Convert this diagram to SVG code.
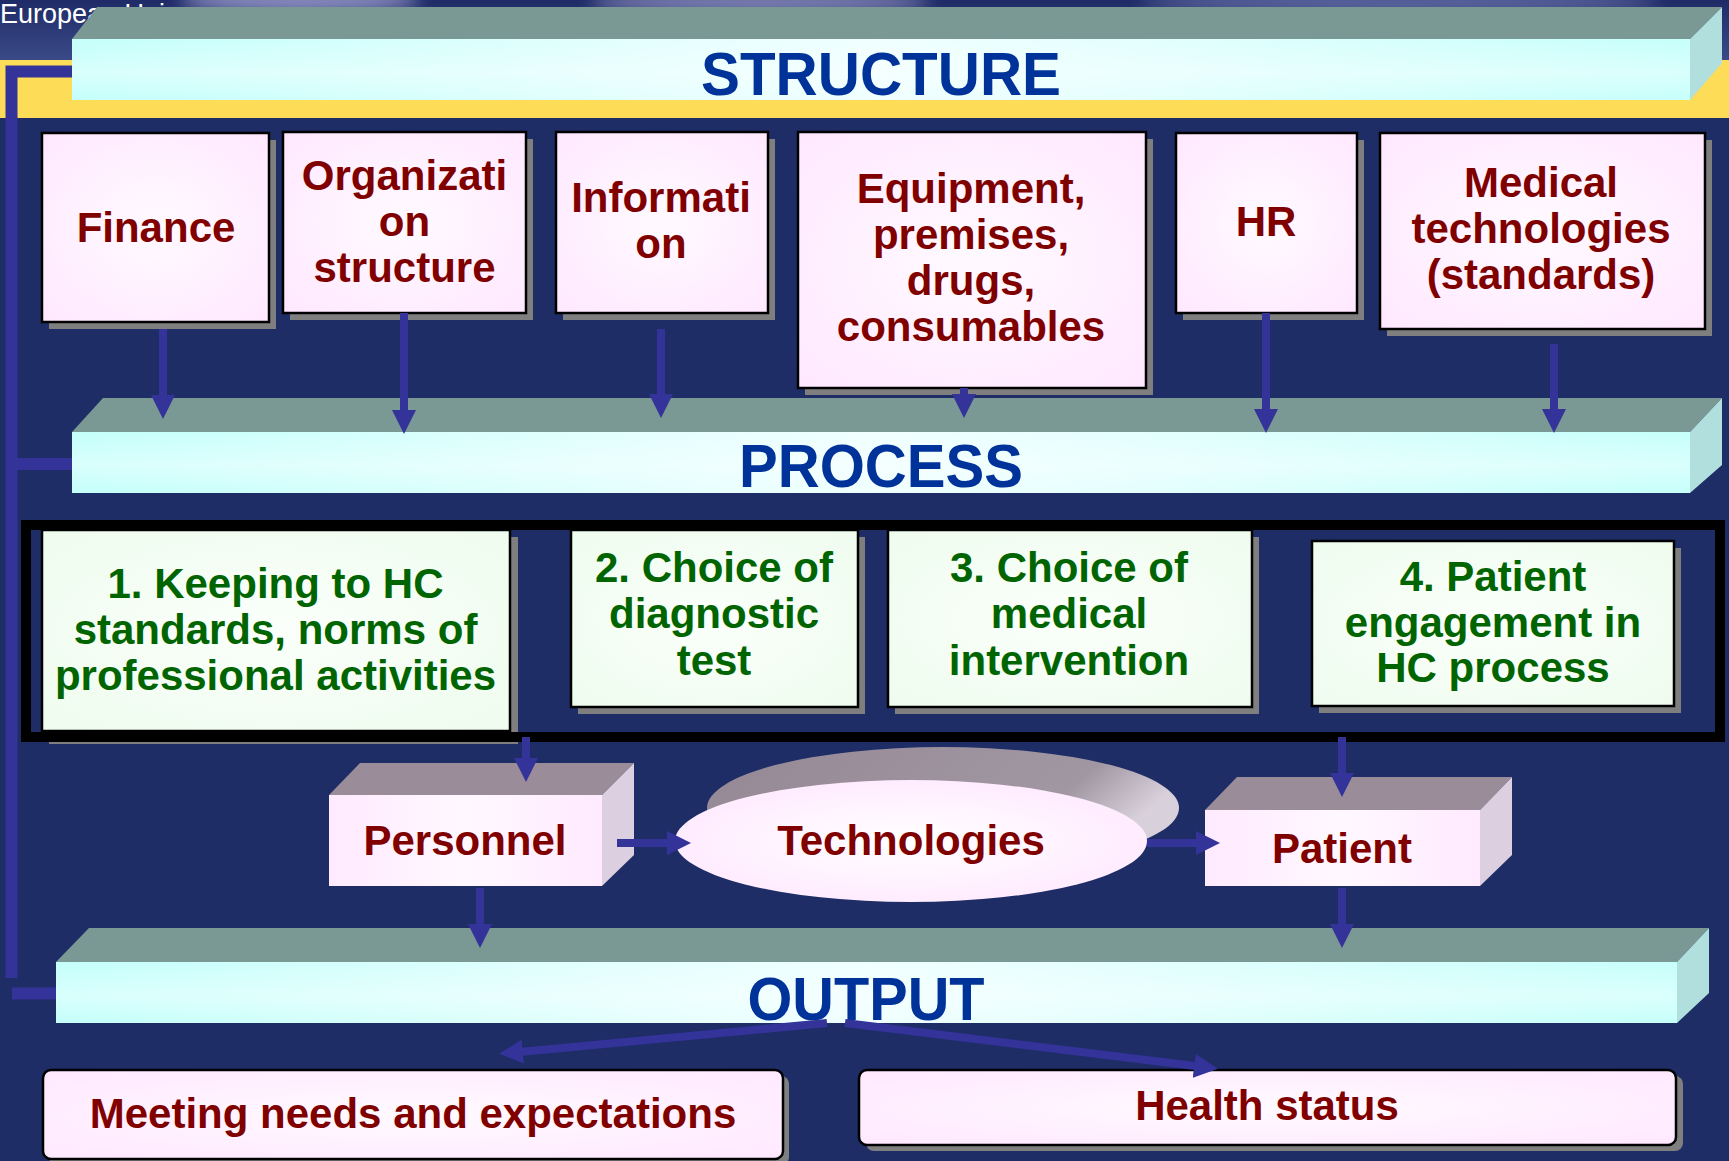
<svg xmlns="http://www.w3.org/2000/svg" width="1729" height="1161" viewBox="0 0 1729 1161">
<defs>
  <style>
    .pink{fill:url(#gPink);stroke:#000;stroke-width:2.5}
    .green{fill:url(#gGreen);stroke:#000;stroke-width:2.5}
    .shadow{fill:#7f7f7f}
    .t{font-family:"Liberation Sans",Arial,sans-serif;font-weight:bold;font-size:42px;text-anchor:middle}
    .tr{fill:#800000}
    .tg{fill:#006400}
    .tb{font-family:"Liberation Sans",Arial,sans-serif;font-weight:bold;font-size:62px;fill:#003399;text-anchor:middle}
    .btop{fill:#7a9894}
    .bfront{fill:url(#gBar)}
    .bside{fill:#b0dfdd}
    .ctop{fill:#9a8c98}
    .cfront{fill:url(#gPinkH)}
    .cside{fill:#dccfdf}
    .conn{stroke:#333399;stroke-width:8;fill:none}
    .fb{stroke:#333399;stroke-width:12;fill:none}
  </style>
  <linearGradient id="gHead" x1="0" y1="0" x2="0" y2="1">
    <stop offset="0" stop-color="#1f2b66"/>
    <stop offset="1" stop-color="#3a4a88"/>
  </linearGradient>
  <linearGradient id="gBar" x1="0" y1="0" x2="1" y2="0">
    <stop offset="0" stop-color="#c4fffb"/>
    <stop offset="0.5" stop-color="#f0ffff"/>
    <stop offset="1" stop-color="#c6fffb"/>
  </linearGradient>
  <linearGradient id="gBarV" x1="0" y1="0" x2="0" y2="1">
    <stop offset="0" stop-color="#ffffff" stop-opacity="0"/>
    <stop offset="0.55" stop-color="#ffffff" stop-opacity="0.35"/>
    <stop offset="1" stop-color="#ffffff" stop-opacity="0"/>
  </linearGradient>
  <radialGradient id="gPink" cx="0.5" cy="0.5" r="0.7">
    <stop offset="0" stop-color="#fffaff"/>
    <stop offset="1" stop-color="#ffe8ff"/>
  </radialGradient>
  <linearGradient id="gPinkH" x1="0" y1="0" x2="1" y2="0">
    <stop offset="0" stop-color="#ffeaff"/>
    <stop offset="0.5" stop-color="#fff8ff"/>
    <stop offset="1" stop-color="#ffeaff"/>
  </linearGradient>
  <radialGradient id="gGreen" cx="0.5" cy="0.5" r="0.7">
    <stop offset="0" stop-color="#fbfffb"/>
    <stop offset="1" stop-color="#eefcee"/>
  </radialGradient>
  <radialGradient id="gEll" cx="0.5" cy="0.5" r="0.55">
    <stop offset="0" stop-color="#ffffff"/>
    <stop offset="1" stop-color="#ffeaff"/>
  </radialGradient>
  <linearGradient id="gEllTop" x1="0" y1="0" x2="1" y2="0.3">
    <stop offset="0" stop-color="#948894"/>
    <stop offset="0.8" stop-color="#a197a3"/>
    <stop offset="1" stop-color="#d8d0da"/>
  </linearGradient>
  <filter id="blur" x="-20%" y="-200%" width="140%" height="500%">
    <feGaussianBlur stdDeviation="8"/>
  </filter>
  <marker id="ah" markerWidth="26" markerHeight="24" refX="1" refY="12" orient="auto" markerUnits="userSpaceOnUse">
    <path d="M0,0 L24,12 L0,24 z" fill="#333399"/>
  </marker>
</defs>

<!-- background -->
<rect x="0" y="0" width="1729" height="1161" fill="#1e2d66"/>
<rect x="0" y="0" width="1729" height="60" fill="url(#gHead)"/>
<g filter="url(#blur)" opacity="0.75">
  <ellipse cx="300" cy="0" rx="120" ry="14" fill="#a8a8d8"/>
  <ellipse cx="760" cy="2" rx="170" ry="12" fill="#9c9ccc"/>
  <ellipse cx="1400" cy="2" rx="260" ry="12" fill="#7078b0"/>
</g>
<rect x="0" y="60" width="1729" height="58" fill="#fddc58"/>
<text x="0" y="23" font-family="Liberation Sans, Arial, sans-serif" font-size="27" fill="#ffffff">European Union</text>

<!-- STRUCTURE bar -->
<g id="bar-structure">
  <polygon class="btop" points="72,39 97,7 1722,7 1690,39"/>
  <polygon class="bside" points="1690,39 1722,7 1722,63 1690,100"/>
  <rect class="bfront" x="72" y="39" width="1618" height="61"/>
  <rect x="72" y="39" width="1618" height="61" fill="url(#gBarV)"/>
  <text class="tb" x="881" y="95" textLength="360" lengthAdjust="spacingAndGlyphs">STRUCTURE</text>
</g>

<!-- PROCESS bar -->
<g id="bar-process">
  <polygon class="btop" points="72,432 103,398 1722,398 1690,432"/>
  <polygon class="bside" points="1690,432 1722,398 1722,465 1690,493"/>
  <rect class="bfront" x="72" y="432" width="1618" height="61"/>
  <rect x="72" y="432" width="1618" height="61" fill="url(#gBarV)"/>
  <text class="tb" x="881" y="487" textLength="284" lengthAdjust="spacingAndGlyphs">PROCESS</text>
</g>

<!-- OUTPUT bar -->
<g id="bar-output">
  <polygon class="btop" points="56,962 89,928 1709,928 1677,962"/>
  <polygon class="bside" points="1677,962 1709,928 1709,993 1677,1023"/>
  <rect class="bfront" x="56" y="962" width="1621" height="61"/>
  <rect x="56" y="962" width="1621" height="61" fill="url(#gBarV)"/>
  <text class="tb" x="866" y="1020" textLength="237" lengthAdjust="spacingAndGlyphs">OUTPUT</text>
</g>

<!-- structure nodes -->
<g id="node-finance">
  <rect class="shadow" x="49" y="140" width="227" height="189"/>
  <rect class="pink" x="42" y="133" width="227" height="189"/>
  <text class="t tr" x="156" y="242">Finance</text>
</g>
<g id="node-organization">
  <rect class="shadow" x="290" y="139" width="243" height="181"/>
  <rect class="pink" x="283" y="132" width="243" height="181"/>
  <text class="t tr" x="404.5" y="190">Organizati</text>
  <text class="t tr" x="404.5" y="236">on</text>
  <text class="t tr" x="404.5" y="282">structure</text>
</g>
<g id="node-information">
  <rect class="shadow" x="563" y="139" width="212" height="181"/>
  <rect class="pink" x="556" y="132" width="212" height="181"/>
  <text class="t tr" x="661" y="212">Informati</text>
  <text class="t tr" x="661" y="258">on</text>
</g>
<g id="node-equipment">
  <rect class="shadow" x="805" y="139" width="348" height="256"/>
  <rect class="pink" x="798" y="132" width="348" height="256"/>
  <text class="t tr" x="971" y="203">Equipment,</text>
  <text class="t tr" x="971" y="249">premises,</text>
  <text class="t tr" x="971" y="295">drugs,</text>
  <text class="t tr" x="971" y="341">consumables</text>
</g>
<g id="node-hr">
  <rect class="shadow" x="1183" y="140" width="181" height="180"/>
  <rect class="pink" x="1176" y="133" width="181" height="180"/>
  <text class="t tr" x="1266" y="236">HR</text>
</g>
<g id="node-medical">
  <rect class="shadow" x="1387" y="140" width="325" height="196"/>
  <rect class="pink" x="1380" y="133" width="325" height="196"/>
  <text class="t tr" x="1541" y="197">Medical</text>
  <text class="t tr" x="1541" y="243">technologies</text>
  <text class="t tr" x="1541" y="289">(standards)</text>
</g>

<!-- process nodes -->
<g id="node-keeping">
  <rect class="shadow" x="49" y="537" width="469" height="207"/>
  <rect class="green" x="42" y="530" width="468" height="201" stroke="#555" stroke-width="1.5"/>
  <text class="t tg" x="275.5" y="598">1. Keeping to HC</text>
  <text class="t tg" x="275.5" y="644">standards, norms of</text>
  <text class="t tg" x="275.5" y="690">professional activities</text>
</g>
<g id="node-diagnostic">
  <rect class="shadow" x="578" y="537" width="287" height="177"/>
  <rect class="green" x="571" y="530" width="287" height="177"/>
  <text class="t tg" x="714" y="582">2. Choice of</text>
  <text class="t tg" x="714" y="628">diagnostic</text>
  <text class="t tg" x="714" y="675">test</text>
</g>
<g id="node-intervention">
  <rect class="shadow" x="895" y="537" width="364" height="177"/>
  <rect class="green" x="888" y="530" width="364" height="177"/>
  <text class="t tg" x="1069" y="582">3. Choice of</text>
  <text class="t tg" x="1069" y="628">medical</text>
  <text class="t tg" x="1069" y="675">intervention</text>
</g>
<g id="node-engagement">
  <rect class="shadow" x="1319" y="548" width="362" height="165"/>
  <rect class="green" x="1312" y="541" width="362" height="165"/>
  <text class="t tg" x="1493" y="591">4. Patient</text>
  <text class="t tg" x="1493" y="637">engagement in</text>
  <text class="t tg" x="1493" y="682">HC process</text>
</g>
<g id="process-frame">
  <rect x="26" y="525" width="1694" height="212" fill="none" stroke="#000" stroke-width="10"/>
</g>

<!-- middle row -->
<g id="node-personnel">
  <polygon class="ctop" points="329,795 360,763 634,763 602,795"/>
  <polygon class="cside" points="602,795 634,763 634,855 602,886"/>
  <rect class="cfront" x="329" y="795" width="273" height="91"/>
  <text class="t tr" x="465" y="855">Personnel</text>
</g>
<g id="node-technologies">
  <ellipse cx="943" cy="808" rx="236" ry="61" fill="url(#gEllTop)"/>
  <ellipse cx="911" cy="841" rx="236" ry="61" fill="url(#gEll)"/>
  <text class="t tr" x="911" y="855">Technologies</text>
</g>
<g id="node-patient">
  <polygon class="ctop" points="1205,810 1237,777 1512,777 1480,810"/>
  <polygon class="cside" points="1480,810 1512,777 1512,855 1480,886"/>
  <rect class="cfront" x="1205" y="810" width="275" height="76"/>
  <text class="t tr" x="1342" y="863">Patient</text>
</g>

<!-- output nodes -->
<g id="node-needs">
  <rect class="shadow" x="49" y="1076" width="740" height="89" rx="8"/>
  <rect class="pink" x="43" y="1070" width="740" height="89" rx="8"/>
  <text class="t tr" x="413" y="1128">Meeting needs and expectations</text>
</g>
<g id="node-health">
  <rect class="shadow" x="866" y="1076" width="817" height="75" rx="8"/>
  <rect class="pink" x="859" y="1070" width="817" height="75" rx="8"/>
  <text class="t tr" x="1267" y="1120">Health status</text>
</g>

<!-- connectors -->
<g id="connectors">
  <path class="fb" d="M72,71.5 H11.5 V978"/>
  <path class="fb" d="M11.5,464 H72"/>
  <path class="fb" d="M12,993.5 H56"/>
  <path class="conn" d="M163,329 V396" marker-end="url(#ah)"/>
  <path class="conn" d="M404,313 V411" marker-end="url(#ah)"/>
  <path class="conn" d="M661,329 V395" marker-end="url(#ah)"/>
  <path class="conn" d="M964,388 V395" marker-end="url(#ah)"/>
  <path class="conn" d="M1266,313 V410" marker-end="url(#ah)"/>
  <path class="conn" d="M1554,344 V410" marker-end="url(#ah)"/>
  <path class="conn" d="M526,737 V759" marker-end="url(#ah)"/>
  <path class="conn" d="M1342,737 V774" marker-end="url(#ah)"/>
  <path class="conn" d="M617,843 H668" marker-end="url(#ah)"/>
  <path class="conn" d="M1147,843 H1197" marker-end="url(#ah)"/>
  <path class="conn" d="M480,888 V925" marker-end="url(#ah)"/>
  <path class="conn" d="M1342,888 V925" marker-end="url(#ah)"/>
  <path class="conn" d="M827,1023 L521.9,1051.7" marker-end="url(#ah)"/>
  <path class="conn" d="M845,1023 L1195.2,1066" marker-end="url(#ah)"/>
</g>
</svg>
